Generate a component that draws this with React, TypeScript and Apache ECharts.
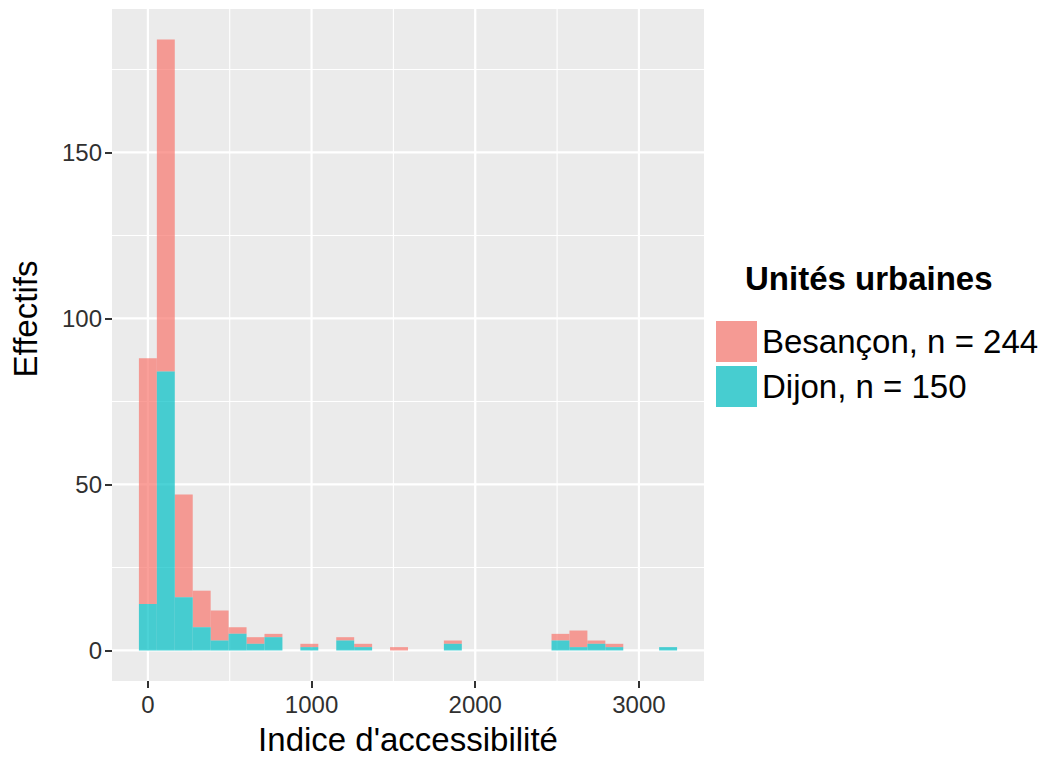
import React, { useEffect, useRef } from "react";
import * as echarts from "echarts";

// Histogram bins (30 bins, width ≈ 109.6, centred on k * width)
const binWidth = 109.6;
const besancon = [74, 100, 31, 11, 9, 2, 2, 1, 0, 1, 0, 1, 1, 0, 1, 0, 0, 1, 0, 0, 0, 0, 0, 2, 5, 1, 1, 0, 0, 0];
const dijon = [14, 84, 16, 7, 3, 5, 2, 4, 0, 1, 0, 3, 1, 0, 0, 0, 0, 2, 0, 0, 0, 0, 0, 3, 1, 2, 1, 0, 0, 1];
const seriesNames = ["Besançon, n = 244", "Dijon, n = 150"];
const legendTitle = "Unités urbaines";
const xTitle = "Indice d'accessibilité";
const yTitle = "Effectifs";

const xBreaks = [0, 1000, 2000, 3000];
const xMinor = [500, 1500, 2500];
const yBreaks = [0, 50, 100, 150];
const yMinor = [25, 75, 125, 175];

const xMin = -219.2;
const xMax = 3397.6;
const yMin = -9.2;
const yMax = 193.2;

const FONT = "'Liberation Sans', Arial, Helvetica, sans-serif";
const RED = "rgba(248,118,109,0.7)";
const TEAL = "rgba(0,191,196,0.7)";
const RED_KEY = "#F59A94";
const TEAL_KEY = "#47CDD0";

export default function App() {
  const ref = useRef<HTMLDivElement>(null);
  useEffect(() => {
    if (!ref.current) return;
    const chart = echarts.init(ref.current, undefined, { renderer: "svg" });

    const dijonData: number[][] = [];
    const besData: number[][] = [];
    dijon.forEach((d, i) => {
      const c = i * binWidth;
      const x0 = c - binWidth / 2;
      const x1 = c + binWidth / 2;
      if (d > 0) dijonData.push([x0, x1, 0, d]);
      const b = besancon[i];
      if (b > 0) besData.push([x0, x1, d, d + b]);
    });

    const gridLines: number[][] = [];
    xBreaks.forEach((v) => gridLines.push([0, v, 1]));
    xMinor.forEach((v) => gridLines.push([0, v, 0]));
    yBreaks.forEach((v) => gridLines.push([1, v, 1]));
    yMinor.forEach((v) => gridLines.push([1, v, 0]));

    const barRender = (color: string) => (params: any, api: any) => {
      const p0 = api.coord([api.value(0), api.value(2)]);
      const p1 = api.coord([api.value(1), api.value(3)]);
      return {
        type: "rect",
        shape: { x: p0[0], y: p1[1], width: p1[0] - p0[0], height: p0[1] - p1[1] },
        style: { fill: color },
      };
    };

    const plain = (v: number) => String(v);

    chart.setOption({
      animation: false,
      backgroundColor: "#FFFFFF",
      textStyle: { fontFamily: FONT },
      grid: {
        left: 112,
        top: 9,
        right: 349,
        bottom: 77,
        show: true,
        backgroundColor: "#EBEBEB",
        borderWidth: 0,
        containLabel: false,
        outerBoundsMode: "none",
      },
      xAxis: {
        type: "value",
        min: xMin,
        max: xMax,
        splitLine: { show: false },
        axisLine: { show: false, onZero: false },
        axisTick: {
          show: true,
          customValues: xBreaks,
          length: 7,
          lineStyle: { color: "#333333", width: 2 },
        },
        axisLabel: {
          customValues: xBreaks,
          formatter: plain,
          fontSize: 24,
          color: "#303030",
          margin: 11,
          fontFamily: FONT,
        },
        name: xTitle,
        nameLocation: "middle",
        nameGap: 42,
        nameTextStyle: { fontSize: 33, color: "#000000", fontFamily: FONT },
      },
      yAxis: {
        type: "value",
        min: yMin,
        max: yMax,
        splitLine: { show: false },
        axisLine: { show: false, onZero: false },
        axisTick: {
          show: true,
          customValues: yBreaks,
          length: 7,
          lineStyle: { color: "#333333", width: 2 },
        },
        axisLabel: {
          customValues: yBreaks,
          formatter: plain,
          fontSize: 24,
          color: "#303030",
          margin: 10,
          fontFamily: FONT,
        },
      },
      legend: {
        orient: "vertical",
        left: 716,
        top: 321,
        padding: 0,
        itemWidth: 41,
        itemHeight: 41,
        itemGap: 4,
        icon: "rect",
        data: [
          { name: seriesNames[0], itemStyle: { color: RED_KEY } },
          { name: seriesNames[1], itemStyle: { color: TEAL_KEY } },
        ],
        selectedMode: false,
        textStyle: { fontSize: 33, color: "#000000", fontFamily: FONT },
      },
      graphic: [
        {
          type: "text",
          left: 745,
          top: 262,
          style: {
            text: legendTitle,
            fontSize: 33,
            fontWeight: "bold",
            fill: "#000000",
            fontFamily: FONT,
          },
        },
        {
          type: "text",
          x: 25,
          y: 319,
          rotation: Math.PI / 2,
          style: {
            text: yTitle,
            fontSize: 33,
            fill: "#000000",
            fontFamily: FONT,
            align: "center",
            verticalAlign: "middle",
          },
        },
      ],
      series: [
        {
          type: "custom",
          name: "grid",
          silent: true,
          z: 1,
          data: gridLines,
          encode: { x: 1, y: 1 },
          renderItem: (params: any, api: any) => {
            const dir = api.value(0);
            const v = api.value(1);
            const major = api.value(2) === 1;
            let a, b;
            if (dir === 0) {
              a = api.coord([v, yMin]);
              b = api.coord([v, yMax]);
            } else {
              a = api.coord([xMin, v]);
              b = api.coord([xMax, v]);
            }
            return {
              type: "line",
              shape: { x1: a[0], y1: a[1], x2: b[0], y2: b[1] },
              style: { stroke: "#FFFFFF", lineWidth: major ? 2.2 : 1.1 },
            };
          },
        },
        {
          type: "custom",
          name: seriesNames[0],
          z: 2,
          itemStyle: { color: RED },
          data: besData,
          encode: { x: [0, 1], y: [2, 3] },
          renderItem: barRender(RED),
        },
        {
          type: "custom",
          name: seriesNames[1],
          z: 2,
          itemStyle: { color: TEAL },
          data: dijonData,
          encode: { x: [0, 1], y: [2, 3] },
          renderItem: barRender(TEAL),
        },
      ],
    });
    return () => chart.dispose();
  }, []);

  return (
    <div
      ref={ref}
      style={{ position: "absolute", left: 0, top: 0, width: 1053, height: 758 }}
    />
  );
}
